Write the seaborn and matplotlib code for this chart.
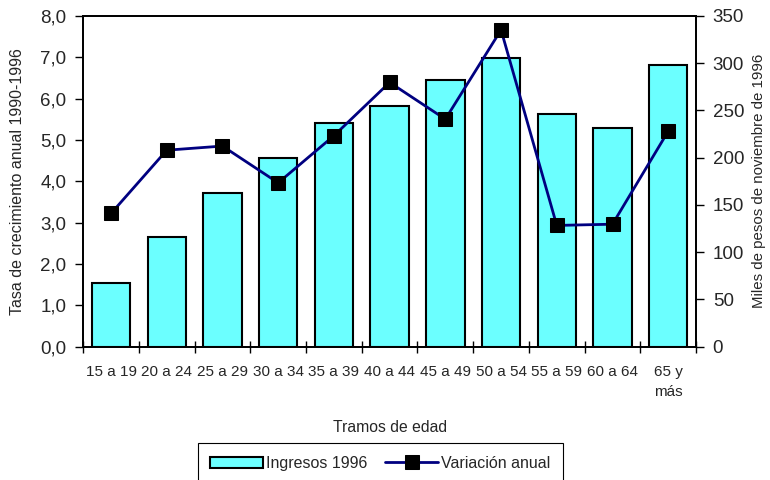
import matplotlib
matplotlib.use("Agg")
import matplotlib.pyplot as plt
import numpy as np
import seaborn as sns
from matplotlib.ticker import FixedLocator, FuncFormatter

tramos = ["15 a 19", "20 a 24", "25 a 29", "30 a 34", "35 a 39", "40 a 44",
          "45 a 49", "50 a 54", "55 a 59", "60 a 64", "65 y\nmás"]
ingresos_1996 = [67, 116, 162, 200, 237, 255, 282, 305, 246, 231, 298]
variacion_anual = [3.22, 4.75, 4.85, 3.96, 5.10, 6.39, 5.50, 7.66, 2.93, 2.96, 5.21]

sns.set_style("ticks")
plt.rcParams["font.family"] = ["Liberation Sans", "DejaVu Sans"]

fig, ax_rate = plt.subplots(figsize=(7.7, 4.8), dpi=100)
fig.subplots_adjust(left=0.108, right=0.904, bottom=0.278, top=0.967)
ax_inc = ax_rate.twinx()

sns.barplot(x=tramos, y=ingresos_1996, ax=ax_inc, color="#6BFFFF", saturation=1,
            edgecolor="black", linewidth=1.5, width=0.69, label="Ingresos 1996")
pos = np.arange(len(tramos))
sns.lineplot(x=pos, y=variacion_anual, ax=ax_rate, color="#000080", linewidth=2,
             marker="s", markersize=10, markerfacecolor="black",
             markeredgecolor="black", label="Variación anual")

# line axis above the bars
ax_rate.set_zorder(ax_inc.get_zorder() + 1)
ax_rate.patch.set_visible(False)

for a in (ax_rate, ax_inc):
    leg = a.get_legend()
    if leg is not None:
        leg.remove()
    for s in a.spines.values():
        s.set_color("black")
        s.set_linewidth(1.3)

ax_rate.set_xlim(-0.5, len(tramos) - 0.5)
ax_rate.set_ylim(0, 8)
ax_inc.set_ylim(0, 350)

ax_rate.xaxis.set_major_locator(FixedLocator(pos))
ax_rate.set_xticklabels(tramos, fontsize=11, linespacing=1.6)
ax_rate.xaxis.set_minor_locator(FixedLocator(np.arange(-0.5, len(tramos), 1.0)))
ax_rate.tick_params(axis="x", which="major", length=0, pad=13)
ax_rate.tick_params(axis="x", which="minor", length=8, width=1, direction="inout", color="black")

ax_rate.set_yticks(np.arange(0, 9, 1))
ax_rate.yaxis.set_major_formatter(FuncFormatter(lambda v, _: f"{v:.1f}".replace(".", ",")))
ax_rate.tick_params(axis="y", labelsize=13.5, length=6, width=1, pad=6, color="black")
ax_inc.set_yticks(np.arange(0, 351, 50))
ax_inc.tick_params(axis="y", labelsize=13.5, length=6, width=1, pad=6, color="black")

ax_rate.set_ylabel("Tasa de crecimiento anual 1990-1996", fontsize=11.5)
ax_rate.yaxis.set_label_coords(-0.095, 0.5)
ax_inc.set_ylabel("Miles de pesos de noviembre de 1996", fontsize=10.8)
ax_inc.yaxis.set_label_coords(1.092, 0.5)
ax_rate.set_xlabel("Tramos de edad", fontsize=11.3)
ax_rate.xaxis.set_label_coords(0.5, -0.222)

h1, l1 = ax_inc.get_legend_handles_labels()
h2, l2 = ax_rate.get_legend_handles_labels()
legend = fig.legend(h1 + h2, l1 + l2, loc="upper center", bbox_to_anchor=(0.494, 0.077),
                    bbox_transform=fig.transFigure, ncol=2, fontsize=11.5, frameon=True,
                    fancybox=False, edgecolor="black", framealpha=1, handlelength=3.3,
                    handletextpad=0.2, columnspacing=1.1, borderpad=0.8, borderaxespad=0)
legend.get_frame().set_linewidth(0.8)

fig.savefig("out.png", dpi=100, facecolor="white")
